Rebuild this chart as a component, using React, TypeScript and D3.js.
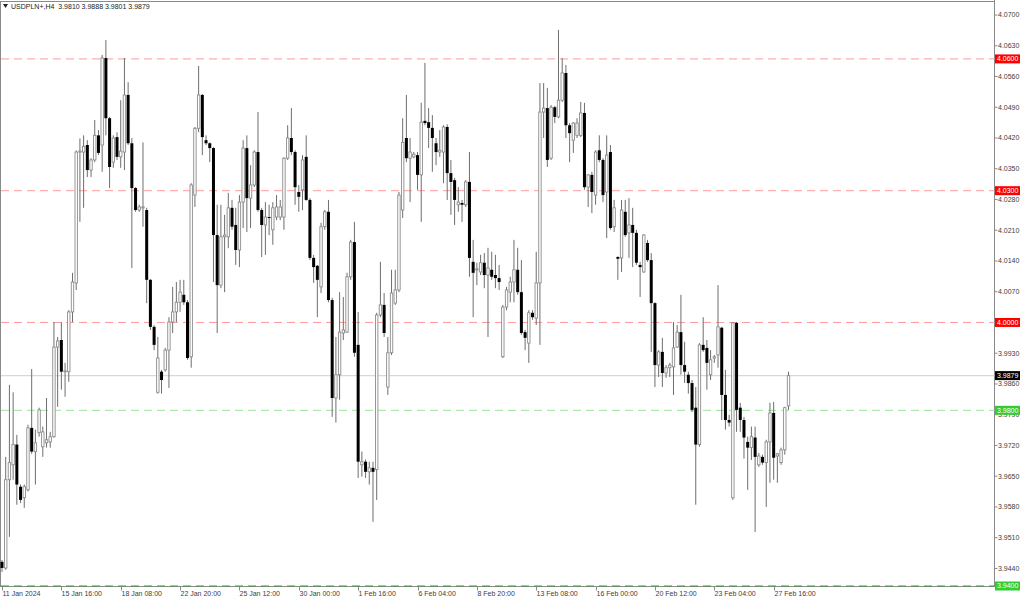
import * as React from 'react';
import * as d3 from 'd3';

const SYMBOL = 'USDPLN+,H4';

// H4 candles, 11 Jan 2024 00:00 .. 28 Feb 2024 08:00
const OPEN = [
    3.9455, 3.9441, 3.9642, 3.9676, 3.9722, 3.9626, 3.9601, 3.9619, 3.976, 3.9706,
    3.9749, 3.9717, 3.9726, 3.9728, 3.974, 3.9944, 3.996, 3.9888, 3.9888, 4.0024,
    4.009, 4.0388, 4.0388, 4.0404, 4.0347, 4.037, 4.0426, 4.0404, 4.0602, 4.0465,
    4.0365, 4.0422, 4.0377, 4.0388, 4.0518, 4.0408, 4.0306, 4.0256, 4.0261, 4.0256,
    4.0097, 3.999, 3.9841, 3.9888, 3.9892, 3.9937, 4.0001, 4.0024, 4.0046, 4.0063,
    4.0046, 3.9922, 4.029, 4.0442, 4.0518, 4.0415, 4.0408, 4.0397, 4.0199, 4.0085,
    4.0195, 4.0195, 4.0261, 4.0222, 4.0165, 4.0274, 4.0397, 4.0283, 4.0313, 4.0388,
    4.0256, 4.0222, 4.024, 4.0211, 4.024, 4.024, 4.024, 4.0374, 4.042, 4.0388,
    4.0297, 4.0302, 4.0377, 4.0279, 4.0147, 4.0129, 4.0081, 4.0218, 4.0252, 4.0051,
    3.9828, 3.9881, 3.9976, 3.9978, 4.0104, 4.0183, 3.9949, 3.9676, 3.9683, 3.966,
    3.9669, 3.9665, 4.0017, 4.004, 3.9853, 3.9931, 4.0044, 4.0074, 4.0256, 4.042,
    4.0374, 4.0377, 4.0381, 4.0336, 4.0459, 4.0456, 4.0443, 4.0408, 4.0388, 4.0388,
    4.0445, 4.034, 4.0324, 4.0268, 4.0272, 4.0268, 4.032, 4.0138, 4.012, 4.0115,
    4.0136, 4.0108, 4.012, 4.0108, 4.0101, 3.9922, 4.0035, 4.0069, 4.0092, 4.012,
    4.0069, 3.9978, 3.9953, 4.0022, 4.001, 4.009, 4.0479, 4.0488, 4.0374, 4.049,
    4.0468, 4.0506, 4.0568, 4.0449, 4.0415, 4.0426, 4.0426, 4.0477, 4.0308, 4.0336,
    4.029, 4.0392, 4.037, 4.0297, 4.0388, 4.0218, 4.0149, 4.0147, 4.0252, 4.0204,
    4.0222, 4.0204, 4.0131, 4.0115, 4.0181, 4.0142, 4.0044, 3.9903, 3.9933, 3.9885,
    3.9897, 3.9899, 3.9944, 3.9978, 3.9903, 3.9881, 3.9862, 3.9806, 3.9722, 3.9949,
    3.9942, 3.9881, 3.9919, 3.9926, 3.9988, 3.9835, 3.9778, 3.9601, 3.9999, 3.9806,
    3.9778, 3.9728, 3.9715, 3.9738, 3.9676, 3.9694, 3.9681, 3.9728, 3.9794, 3.9696,
    3.9681, 3.971, 3.981
];
const HIGH = [
    3.9459, 3.9694, 3.9858, 3.9841, 3.9744, 3.9631, 3.9631, 3.9767, 3.9894, 3.9756,
    3.9806, 3.9763, 3.9828, 3.9751, 4.0001, 3.9967, 4.0001, 3.9908, 4.0028, 4.0113,
    4.0392, 4.0419, 4.0426, 4.0415, 4.0374, 4.0461, 4.0438, 4.0609, 4.0643, 4.0468,
    4.0426, 4.0433, 4.0506, 4.0602, 4.0547, 4.042, 4.0308, 4.0268, 4.041, 4.0261,
    4.0099, 3.9994, 3.9967, 3.9892, 3.9942, 4.0012, 4.0081, 4.0092, 4.0097, 4.0097,
    4.0051, 4.0317, 4.0445, 4.0584, 4.052, 4.0426, 4.041, 4.0399, 4.0268, 4.0268,
    4.0245, 4.0295, 4.0279, 4.0261, 4.029, 4.0415, 4.0426, 4.0358, 4.0392, 4.0479,
    4.0261, 4.0274, 4.0268, 4.0274, 4.029, 4.0279, 4.0376, 4.0449, 4.0488, 4.0392,
    4.0313, 4.0381, 4.0426, 4.0283, 4.0154, 4.0131, 4.0227, 4.0256, 4.0279, 4.0056,
    3.9967, 4.0069, 4.0058, 4.0113, 4.0188, 4.0229, 4.0024, 3.9706, 3.9688, 3.9683,
    3.9683, 4.0022, 4.0138, 4.0067, 3.9967, 4.012, 4.012, 4.0297, 4.0465, 4.0518,
    4.042, 4.0388, 4.0388, 4.05, 4.0591, 4.0488, 4.0472, 4.042, 4.0438, 4.0449,
    4.0451, 4.037, 4.0329, 4.0308, 4.0279, 4.0324, 4.0388, 4.0188, 4.0136, 4.0154,
    4.0158, 4.017, 4.0161, 4.0154, 4.0131, 4.004, 4.0081, 4.0104, 4.0188, 4.017,
    4.0142, 3.9983, 4.0028, 4.0028, 4.0161, 4.0545, 4.0545, 4.0534, 4.0495, 4.0493,
    4.0666, 4.0602, 4.0586, 4.0454, 4.0456, 4.0465, 4.0502, 4.05, 4.0338, 4.0343,
    4.0392, 4.0426, 4.0374, 4.0426, 4.0404, 4.0279, 4.0151, 4.0279, 4.0279, 4.0283,
    4.0261, 4.0211, 4.0138, 4.0201, 4.0188, 4.0158, 4.0046, 3.9937, 3.9965, 3.9903,
    3.9908, 4.0001, 3.9994, 4.0063, 3.9956, 3.9888, 3.9869, 3.9853, 3.9953, 4.0012,
    3.996, 3.9937, 3.9926, 4.0085, 3.999, 3.9892, 3.979, 4.0001, 4.0001, 3.9817,
    3.9785, 3.974, 3.9763, 3.9763, 3.9703, 3.9699, 3.9733, 3.9817, 3.9819, 3.9703,
    3.9715, 3.9808, 3.9888
];
const LOW = [
    3.9432, 3.9437, 3.9512, 3.9642, 3.9585, 3.9589, 3.9578, 3.9615, 3.9701, 3.9631,
    3.974, 3.9694, 3.9715, 3.9715, 3.9738, 3.9808, 3.9847, 3.9831, 3.9865, 4.0001,
    4.0074, 4.0229, 4.0261, 4.0331, 4.0331, 4.0365, 4.0381, 4.0343, 4.0426, 4.0306,
    4.0352, 4.037, 4.0352, 4.0347, 4.0404, 4.0124, 4.0252, 4.0252, 4.0218, 4.0044,
    3.9983, 3.9937, 3.9838, 3.9838, 3.9888, 3.9851, 3.9976, 4.0001, 4.0024, 4.004,
    3.9915, 3.9897, 4.0263, 4.0433, 4.0381, 4.0404, 4.0365, 4.0092, 3.9976, 4.0078,
    4.0069, 4.0169, 4.0211, 4.0131, 4.0126, 4.0215, 4.0206, 4.0215, 4.0308, 4.0252,
    4.0149, 4.0154, 4.0199, 4.0177, 4.0233, 4.0233, 4.0211, 4.037, 4.0381, 4.0268,
    4.0252, 4.0256, 4.0277, 4.0142, 4.009, 4.0012, 4.0067, 4.0211, 4.0046, 3.9785,
    3.9772, 3.9824, 3.996, 3.9976, 4.0097, 3.9922, 3.9646, 3.9649, 3.9646, 3.9631,
    3.9546, 3.9596, 4.0012, 3.9967, 3.9835, 3.9926, 4.004, 4.0069, 4.0238, 4.0365,
    4.0274, 4.0374, 4.0302, 4.0229, 4.0449, 4.0397, 4.0343, 4.0358, 4.0377, 4.0317,
    4.0279, 4.0245, 4.0222, 4.0252, 4.0229, 4.0263, 4.0104, 4.0012, 4.0085, 4.0108,
    4.0078, 3.9967, 4.0097, 4.0078, 4.0074, 3.9919, 4.0028, 4.0046, 4.0046, 4.0063,
    3.9972, 3.9937, 3.9908, 4.0006, 3.9994, 3.9949, 4.042, 4.0354, 4.037, 4.0454,
    4.0465, 4.0502, 4.042, 4.0365, 4.0386, 4.042, 4.0422, 4.0302, 4.0263, 4.0249,
    4.0268, 4.0365, 4.0274, 4.0192, 4.0211, 4.0206, 4.0097, 4.0115, 4.0195, 4.0147,
    4.0126, 4.0131, 4.0058, 4.0113, 4.0138, 3.9933, 3.9853, 3.9876, 3.9853, 3.9874,
    3.9876, 3.9835, 3.9942, 3.9881, 3.9862, 3.9838, 3.9796, 3.9585, 3.9717, 3.9933,
    3.9847, 3.9869, 3.9908, 3.9897, 3.9778, 3.9756, 3.9763, 3.9596, 3.9751, 3.9751,
    3.969, 3.9619, 3.9687, 3.9523, 3.9671, 3.9676, 3.958, 3.9635, 3.9642, 3.9635,
    3.9676, 3.9699, 3.9801
];
const CLOSE = [
    3.9441, 3.9642, 3.9681, 3.9722, 3.9631, 3.9596, 3.9626, 3.976, 3.9706, 3.9726,
    3.9801, 3.9751, 3.9733, 3.974, 3.9944, 3.9958, 3.9888, 3.989, 4.0024, 4.0092,
    4.0388, 4.039, 4.0401, 4.0347, 4.037, 4.0426, 4.0386, 4.0602, 4.0465, 4.0354,
    4.042, 4.0377, 4.039, 4.0518, 4.0408, 4.0306, 4.0256, 4.0263, 4.0263, 4.0097,
    3.999, 3.9949, 3.9919, 3.9869, 3.9937, 4.0001, 4.0024, 4.0046, 4.0069, 4.0046,
    3.9919, 4.0313, 4.0442, 4.0518, 4.0422, 4.0408, 4.0397, 4.0199, 4.0085, 4.0195,
    4.0199, 4.0261, 4.0218, 4.0165, 4.0274, 4.0397, 4.0283, 4.0313, 4.0388, 4.0256,
    4.0222, 4.024, 4.0238, 4.0261, 4.0263, 4.0263, 4.0374, 4.042, 4.0388, 4.0308,
    4.0286, 4.037, 4.0279, 4.0147, 4.0126, 4.0097, 4.0218, 4.0252, 4.0051, 3.9828,
    3.9881, 3.9978, 3.9983, 4.0104, 4.0183, 3.9931, 3.9683, 3.9683, 3.966, 3.9669,
    3.966, 4.0017, 4.004, 3.9976, 3.9931, 4.0067, 4.0074, 4.029, 4.041, 4.0374,
    4.0388, 4.0383, 4.0336, 4.0456, 4.0454, 4.0443, 4.042, 4.0388, 4.0392, 4.0445,
    4.034, 4.032, 4.0279, 4.0274, 4.0268, 4.032, 4.0147, 4.0113, 4.0122, 4.0136,
    4.0108, 4.0124, 4.0104, 4.0101, 4.0092, 4.0035, 4.0074, 4.0092, 4.012, 4.0069,
    3.9976, 3.9965, 4.0022, 4.0012, 4.009, 4.0479, 4.0488, 4.037, 4.049, 4.0468,
    4.0506, 4.0568, 4.0449, 4.0431, 4.0454, 4.0454, 4.0477, 4.0308, 4.0336, 4.0297,
    4.0388, 4.037, 4.029, 4.0381, 4.0215, 4.0261, 4.0145, 4.0256, 4.0199, 4.0222,
    4.0204, 4.0136, 4.0126, 4.0199, 4.0142, 4.0044, 3.9903, 3.9933, 3.9885, 3.9897,
    3.9903, 3.9942, 3.9978, 3.9903, 3.9888, 3.9862, 3.9801, 3.9722, 3.9949, 3.9937,
    3.9908, 3.9915, 3.9922, 3.999, 3.9835, 3.9778, 3.9772, 3.9999, 3.9801, 3.9778,
    3.9738, 3.9715, 3.974, 3.9694, 3.9696, 3.9681, 3.9728, 3.9794, 3.9692, 3.9701,
    3.971, 3.9806, 3.9879
];

// one date label every 16 bars
const TIME_LABELS = [
    '11 Jan 2024', '15 Jan 16:00', '18 Jan 08:00', '22 Jan 20:00', '25 Jan 12:00',
    '30 Jan 00:00', '1 Feb 16:00', '6 Feb 04:00', '8 Feb 20:00', '13 Feb 08:00',
    '16 Feb 00:00', '20 Feb 12:00', '23 Feb 04:00', '27 Feb 16:00'
];
const LABEL_STEP = 16;

const PRICE_TICKS = [
    4.07, 4.063, 4.056, 4.049, 4.042, 4.035, 4.028, 4.021, 4.014, 4.007,
    4.0, 3.993, 3.986, 3.979, 3.972, 3.965, 3.958, 3.951, 3.944
];
const RED_LEVELS = [4.06, 4.03, 4.0];
const GREEN_LEVELS = [3.98];
const BOTTOM_LEVEL = 3.94;

const W = 1024;
const H = 599;
const RIGHT = 994.5;
const BOTTOM = 586.5;
const FONT = '"Liberation Sans", Arial, sans-serif';

const App: React.FC = () => {
    const n = CLOSE.length;
    const last = n - 1;

    /** ******** Scales ********* */
    const x = d3.scaleLinear().domain([0, last]).range([2, 788.5]);
    const y = d3.scaleLinear().domain([3.94, 4.07]).range([586, 15]);
    const fmt = d3.format('.4f');

    const header = `${SYMBOL}  ${[OPEN[last], HIGH[last], LOW[last], CLOSE[last]].map(fmt).join(' ')}`;

    const tag = (price: number, bg: string, key: string) => (
        <g key={key}>
            <rect x={995} y={y(price) - 4.5} width={25} height={9} fill={bg} />
            <text x={997} y={y(price)} dy="0.35em" fill="#fff" fontSize={7}>
                {fmt(price)}
            </text>
        </g>
    );

    return (
        <svg
            width={W}
            height={H}
            style={{ position: 'fixed', left: 0, top: 0, background: '#fff' }}
            fontFamily={FONT}
        >
            {/* header */}
            <path d="M3,4 L8,4 L5.5,8 Z" fill="#222" />
            <text x={11} y={9} fontSize={7} fill="#222" style={{ whiteSpace: 'pre' }}>
                {header}
            </text>

            {/* frame */}
            <g stroke="#8a8a8a" strokeWidth={1} shapeRendering="crispEdges">
                <line x1={0.5} x2={0.5} y1={1} y2={BOTTOM} />
                <line x1={0} x2={RIGHT} y1={1.5} y2={1.5} />
                <line x1={RIGHT} x2={RIGHT} y1={0} y2={BOTTOM + 0.5} />
                <line x1={0} x2={RIGHT} y1={BOTTOM} y2={BOTTOM} />
            </g>

            {/* price axis */}
            {PRICE_TICKS.map(p => (
                <g key={p}>
                    <line x1={RIGHT} x2={RIGHT + 3} y1={y(p)} y2={y(p)} stroke="#8a8a8a" />
                    <text x={998} y={y(p)} dy="0.35em" fontSize={7} fill="#404040">
                        {fmt(p)}
                    </text>
                </g>
            ))}

            {/* time axis */}
            {TIME_LABELS.map((t, k) => {
                const xx = Math.round(x(k * LABEL_STEP)) + 0.5;
                return (
                    <g key={t}>
                        <line x1={xx} x2={xx} y1={BOTTOM} y2={BOTTOM + 4} stroke="#8a8a8a" />
                        <text x={xx} y={596} fontSize={7} fill="#404040">
                            {t}
                        </text>
                    </g>
                );
            })}

            {/* level lines */}
            {RED_LEVELS.map(p => (
                <line key={p} x1={1} x2={RIGHT} y1={y(p)} y2={y(p)} stroke="#ff9a9a" strokeDasharray="8,5" />
            ))}
            {GREEN_LEVELS.map(p => (
                <line key={p} x1={1} x2={RIGHT} y1={y(p)} y2={y(p)} stroke="#9be39b" strokeDasharray="8,5" />
            ))}
            <line x1={1} x2={RIGHT} y1={y(BOTTOM_LEVEL)} y2={y(BOTTOM_LEVEL)} stroke="#3a9a3a" strokeDasharray="8,5" />
            <line x1={1} x2={RIGHT} y1={y(CLOSE[last])} y2={y(CLOSE[last])} stroke="#d8d8d8" strokeWidth={1.2} />

            {/* candles */}
            {CLOSE.map((c, i) => {
                const o = OPEN[i];
                const cx = x(i);
                const up = c >= o;
                const top = y(Math.max(o, c));
                const h = Math.max(y(Math.min(o, c)) - top, 1);
                return (
                    <g key={i}>
                        <line x1={cx} x2={cx} y1={y(HIGH[i])} y2={y(LOW[i])} stroke="#6e6e6e" strokeWidth={1} />
                        {up ? (
                            <rect x={cx - 1.2} y={top} width={2.4} height={h} fill="#fff" stroke="#8c8c8c" strokeWidth={0.9} />
                        ) : (
                            <rect x={cx - 1.5} y={top} width={3} height={h} fill="#000" />
                        )}
                    </g>
                );
            })}

            {/* price tags */}
            {RED_LEVELS.map(p => tag(p, '#ff0000', `r${p}`))}
            {GREEN_LEVELS.map(p => tag(p, '#33cc33', `g${p}`))}
            {tag(BOTTOM_LEVEL, '#33cc33', 'bottom')}
            {tag(CLOSE[last], '#000', 'last')}
        </svg>
    );
};

export default App;
